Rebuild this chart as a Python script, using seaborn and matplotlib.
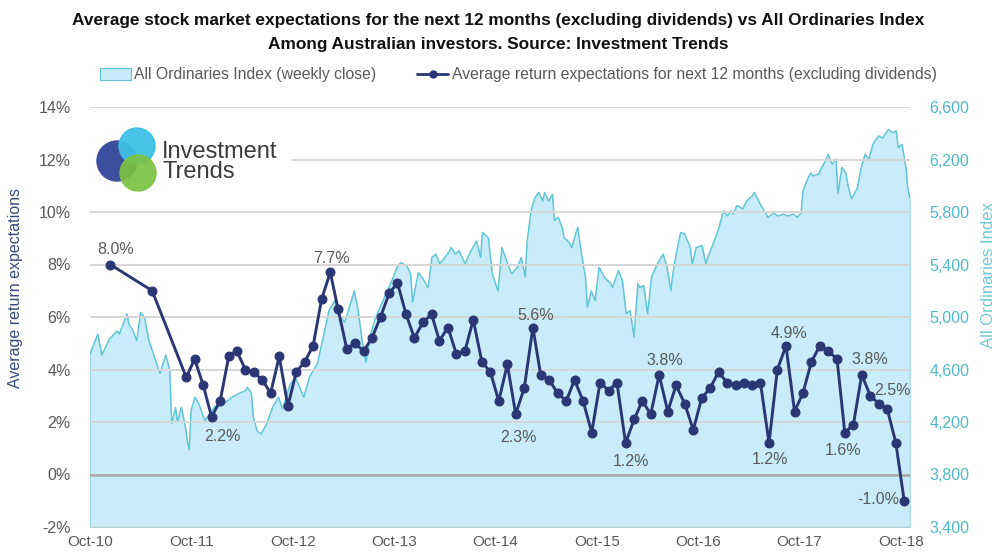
import numpy as np
import pandas as pd
import matplotlib
matplotlib.use("Agg")
import matplotlib.pyplot as plt
import matplotlib.dates as mdates
import seaborn as sns
from matplotlib import font_manager
from matplotlib.patches import Circle, Patch
from matplotlib.lines import Line2D

# ---------------- data ----------------
survey_months = [
    "2010-12", "2011-05",
    "2011-09", "2011-10", "2011-11", "2011-12",
    "2012-01", "2012-02", "2012-03", "2012-04", "2012-05", "2012-06",
    "2012-07", "2012-08", "2012-09", "2012-10", "2012-11", "2012-12",
    "2013-01", "2013-02", "2013-03", "2013-04", "2013-05", "2013-06",
    "2013-07", "2013-08", "2013-09", "2013-10", "2013-11", "2013-12",
    "2014-01", "2014-02", "2014-03", "2014-04", "2014-05", "2014-06",
    "2014-07", "2014-08", "2014-09", "2014-10", "2014-11", "2014-12",
    "2015-01", "2015-02", "2015-03", "2015-04", "2015-05", "2015-06",
    "2015-07", "2015-08", "2015-09", "2015-10", "2015-11", "2015-12",
    "2016-01", "2016-02", "2016-03", "2016-04", "2016-05", "2016-06",
    "2016-07", "2016-08", "2016-09", "2016-10", "2016-11", "2016-12",
    "2017-01", "2017-02", "2017-03", "2017-04", "2017-05", "2017-06",
    "2017-07", "2017-08", "2017-09", "2017-10", "2017-11", "2017-12",
    "2018-01", "2018-02", "2018-03", "2018-04", "2018-05", "2018-06",
    "2018-07", "2018-08", "2018-09", "2018-10",
]
expectations = [
    8.0, 7.0, 3.7, 4.4, 3.4, 2.2, 2.8, 4.5, 4.7, 4.0,
    3.9, 3.6, 3.1, 4.5, 2.6, 3.9, 4.3, 4.9, 6.7, 7.7,
    6.3, 4.8, 5.0, 4.7, 5.2, 6.0, 6.9, 7.3, 6.1, 5.2,
    5.8, 6.1, 5.1, 5.6, 4.6, 4.7, 5.9, 4.3, 3.9, 2.8,
    4.2, 2.3, 3.3, 5.6, 3.8, 3.6, 3.1, 2.8, 3.6, 2.8,
    1.6, 3.5, 3.2, 3.5, 1.2, 2.1, 2.8, 2.3, 3.8, 2.4,
    3.4, 2.7, 1.7, 2.9, 3.3, 3.9, 3.5, 3.4, 3.5, 3.4,
    3.5, 1.2, 4.0, 4.9, 2.4, 3.1, 4.3, 4.9, 4.7, 4.4,
    1.6, 1.9, 3.8, 3.0, 2.7, 2.5, 1.2, -1.0,
]
# which survey points carry a value label
labelled_points = [0, 5, 19, 41, 43, 54, 58, 71, 73, 80, 82, 85, 87]

# All Ordinaries weekly close (weeks after Fri 1 Oct 2010)
index_week = [
    0, 4, 6, 10, 14, 15, 19, 20, 22, 24, 26, 28, 30, 32, 36, 37, 39, 41, 42, 44,
    45, 47, 49, 50, 51, 52, 54, 56, 59, 64, 68, 71, 73, 76, 80, 81, 83, 84, 86, 88,
    91, 94, 97, 99, 100, 103, 106, 110, 113, 117, 120, 123, 126, 128, 131, 134, 136, 138, 140, 142,
    144, 147, 149, 153, 156, 158, 160, 163, 165, 166, 169, 171, 174, 176, 178, 180, 184, 186, 188, 190,
    193, 196, 199, 201, 202, 205, 207, 210, 212, 215, 217, 220, 222, 224, 225, 227, 229, 231, 233, 234,
    236, 238, 239, 241, 243, 244, 246, 248, 250, 251, 253, 255, 256, 258, 260, 262, 265, 268, 269, 272,
    274, 276, 278, 280, 282, 283, 285, 287, 289, 292, 295, 297, 299, 300, 302, 304, 306, 309, 310, 312,
    315, 317, 318, 320, 322, 324, 326, 328, 330, 331, 333, 336, 338, 341, 342, 345, 347, 349, 352, 354,
    357, 359, 362, 364, 366, 367, 369, 371, 372, 375, 377, 378, 380, 382, 384, 385, 387, 389, 390, 392,
    395, 397, 399, 401, 403, 404, 406, 408, 411, 413, 415, 416, 418, 420, 421, 422,
]
index_close = [
    4720, 4870, 4710, 4835, 4895, 4870, 5025, 4945, 4900, 4820, 5035, 5000, 4835, 4745, 4570, 4620, 4710, 4595, 4190, 4310,
    4200, 4315, 4165, 4060, 3990, 4290, 4390, 4340, 4210, 4315, 4340, 4365, 4390, 4415, 4440, 4465, 4420, 4240, 4130, 4110,
    4190, 4315, 4390, 4300, 4345, 4490, 4530, 4390, 4545, 4645, 4845, 5050, 5125, 5025, 4960, 5100, 5200, 5050, 4820, 4655,
    4845, 5000, 5065, 5200, 5300, 5380, 5415, 5390, 5330, 5115, 5340, 5300, 5225, 5455, 5480, 5405, 5480, 5530, 5480, 5505,
    5405, 5505, 5580, 5455, 5645, 5605, 5330, 5200, 5530, 5405, 5330, 5380, 5455, 5305, 5580, 5810, 5910, 5950, 5885, 5950,
    5885, 5935, 5735, 5760, 5685, 5605, 5580, 5530, 5635, 5685, 5480, 5300, 5075, 5200, 5125, 5380, 5300, 5255, 5225, 5355,
    5280, 5025, 5050, 4850, 5255, 5225, 5240, 5025, 5305, 5405, 5480, 5380, 5200, 5330, 5505, 5645, 5635, 5530, 5405, 5530,
    5545, 5405, 5455, 5530, 5605, 5695, 5810, 5770, 5810, 5785, 5850, 5825, 5885, 5925, 5950, 5860, 5810, 5760, 5795, 5770,
    5785, 5770, 5785, 5760, 5795, 5960, 6040, 6100, 6075, 6090, 6150, 6175, 6240, 6165, 6205, 5940, 6140, 6100, 6015, 5900,
    5985, 6140, 6240, 6205, 6315, 6340, 6380, 6365, 6430, 6405, 6420, 6290, 6315, 6140, 5975, 5910,
]

x_tick_labels = ["Oct-10", "Oct-11", "Oct-12", "Oct-13", "Oct-14",
                 "Oct-15", "Oct-16", "Oct-17", "Oct-18"]
left_ticks = [-2, 0, 2, 4, 6, 8, 10, 12, 14]
right_ticks = [3400, 3800, 4200, 4600, 5000, 5400, 5800, 6200, 6600]

title_lines = [
    "Average stock market expectations for the next 12 months (excluding dividends) vs All Ordinaries Index",
    "Among Australian investors. Source: Investment Trends",
]
legend_labels = ["All Ordinaries Index (weekly close)",
                 "Average return expectations for next 12 months (excluding dividends)"]

# ---------------- style ----------------
sns.set_theme(style="white")
names = {f.name for f in font_manager.fontManager.ttflist}
base = "Liberation Sans" if "Liberation Sans" in names else "DejaVu Sans"
narrow = "Liberation Sans Narrow" if "Liberation Sans Narrow" in names else None
plt.rcParams["font.family"] = [base, "DejaVu Sans"]

NAVY = "#2B3674"
FILL = "#C8ECF9"
TEAL = "#5EC4D6"
TEAL_TXT = "#4FB8CA"
GREY_TXT = "#595959"
GRID = "#D6D6D6"

W, H = 997, 553
fig = plt.figure(figsize=(W / 100, H / 100), dpi=100)
fx = lambda p: p / W
fy = lambda p: 1 - p / H

ax = fig.add_axes([fx(90), fy(527), fx(910) - fx(90), fy(107) - fy(527)])
ax2 = ax.twinx()
ax.set_zorder(ax2.get_zorder() + 1)
ax.patch.set_visible(False)

start = pd.Timestamp("2010-10-01")
idx_df = pd.DataFrame({
    "date": start + pd.to_timedelta(np.array(index_week) * 7, unit="D"),
    "close": index_close,
})
exp_df = pd.DataFrame({
    "date": pd.PeriodIndex(survey_months, freq="M").to_timestamp() + pd.Timedelta(days=12),
    "exp": expectations,
})

# index area (right axis)
ax2.fill_between(idx_df["date"], idx_df["close"], right_ticks[0],
                 facecolor=FILL, edgecolor="#9ED9E8", linewidth=0.8, zorder=1)
sns.lineplot(data=idx_df, x="date", y="close", ax=ax2, color=TEAL,
             linewidth=0.9, zorder=2, legend=False)
ax2.set_ylim(right_ticks[0], right_ticks[-1])
ax2.set_yticks(right_ticks)
ax2.set_yticklabels([f"{v:,.0f}" for v in right_ticks])
ax2.tick_params(axis="y", length=0, pad=14, labelsize=11.5, labelcolor=TEAL_TXT)
ax2.set_ylabel("")
ax2.grid(False)
for s in ax2.spines.values():
    s.set_visible(False)

# expectations (left axis)
ax.yaxis.grid(True, color=GRID, linewidth=1.4, zorder=0)
ax.xaxis.grid(False)
ax.axhline(0, color="#A8A8A8", linewidth=1.8, zorder=1.5)
sns.lineplot(data=exp_df, x="date", y="exp", ax=ax, color=NAVY, linewidth=2.1,
             marker="o", markersize=6.4, markeredgecolor=NAVY, markeredgewidth=0.8,
             zorder=3, legend=False)
ax.set_ylim(left_ticks[0], left_ticks[-1])
ax.set_yticks(left_ticks)
ax.set_yticklabels([f"{v}%" for v in left_ticks])
ax.set_xlim(pd.Timestamp("2010-10-01"), pd.Timestamp("2018-11-03"))
tick_dates = pd.to_datetime([f"20{l[-2:]}-10-01" for l in x_tick_labels])
ax.set_xticks(mdates.date2num(tick_dates))
ax.set_xticklabels(x_tick_labels)
ax.tick_params(axis="both", length=0, labelsize=11.5, labelcolor=GREY_TXT)
ax.tick_params(axis="y", pad=14)
ax.tick_params(axis="x", pad=6, labelsize=11)
ax.set_xlabel("")
ax.set_ylabel("")
for s in ax.spines.values():
    s.set_visible(False)

# value labels
label_offsets = {0: (4, 11), 5: (8, -14), 19: (1, 10), 41: (2, -17), 43: (2, 9),
                 54: (4, -13), 58: (4, 10), 71: (1, -12), 73: (2, 9), 80: (-1, -13),
                 82: (6, 11), 85: (4, 13), 87: (-19, 1)}
for i in labelled_points:
    d = exp_df["date"].iloc[i]
    v = exp_df["exp"].iloc[i]
    dx, dy = label_offsets[i]
    ax.annotate(f"{v:.1f}%", (mdates.date2num(d), v), xytext=(dx, dy),
                textcoords="offset points", ha="center", va="center",
                fontsize=11.5, color=GREY_TXT, zorder=4)

# axis titles
fig.text(fx(16), fy(288), "Average return expectations", rotation=90,
         ha="center", va="center", fontsize=11.5, color="#3A477A")
fig.text(fx(988), fy(275), "All Ordinaries Index", rotation=90,
         ha="center", va="center", fontsize=12, color="#72C8D8")

# title
tfam = [narrow, base] if narrow else [base]
tsize = 14.5 if narrow else 12.4
fig.text(0.5, fy(20), title_lines[0], ha="center", va="center",
         fontsize=tsize, fontweight="bold", family=tfam, color="#111111")
fig.text(0.5, fy(45), title_lines[1], ha="center", va="center",
         fontsize=tsize, fontweight="bold", family=tfam, color="#111111")

# legend
handles = [Patch(facecolor=FILL, edgecolor=TEAL, linewidth=0.8),
           Line2D([], [], color=NAVY, linewidth=2, marker="o", markersize=5)]
fig.legend(handles, legend_labels, loc="center", bbox_to_anchor=(fx(518), fy(75)),
           ncol=2, frameon=False, fontsize=11.3, handlelength=2.0, handleheight=0.8,
           handletextpad=0.2, columnspacing=2.6, labelcolor=GREY_TXT)

# logo
lax = fig.add_axes([fx(88), fy(198), fx(292) - fx(88), fy(118) - fy(198)])
lax.set_zorder(ax.get_zorder() + 2)
lax.set_xlim(0, 204)
lax.set_ylim(80, 0)
lax.set_facecolor("white")
lax.set_xticks([])
lax.set_yticks([])
for s in lax.spines.values():
    s.set_visible(False)
lax.add_patch(Circle((29, 43), 20, color="#3C4E9E", zorder=1))
lax.add_patch(Circle((49, 28), 18, color="#3EC1E6", alpha=0.95, zorder=2))
lax.add_patch(Circle((50, 55), 18, color="#7CC243", alpha=0.92, zorder=3))
lax.text(74, 40, "Investment", fontsize=17, color="#3B3B3B", va="baseline", ha="left")
lax.text(74, 60, "Trends", fontsize=17, color="#3B3B3B", va="baseline", ha="left")

fig.savefig("out.png", dpi=100, facecolor="white")
